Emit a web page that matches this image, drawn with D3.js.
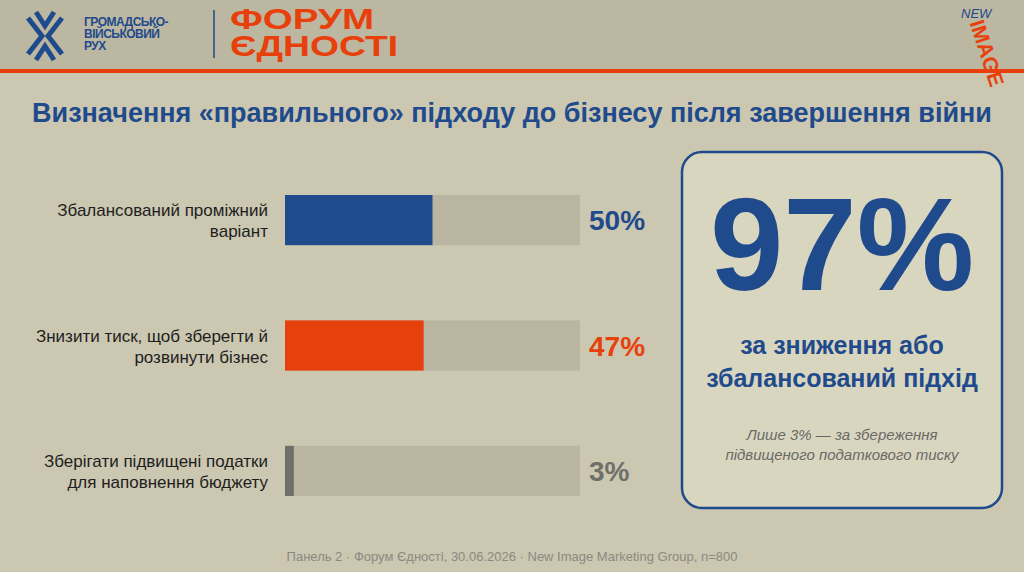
<!DOCTYPE html>
<html lang="uk">
<head>
<meta charset="utf-8">
<script src="https://d3js.org/d3.v7.min.js"></script>
<style>
  body { margin: 0; background: #c9c5ad; }
  svg { display: block; font-family: "Liberation Sans", Arial, sans-serif; }
</style>
</head>
<body>
<div id="chart"></div>
<script>
var W = 1024, H = 572;
var blue = "#1f4a8c", orange = "#e8400c", grey = "#6f6f6a";

var data = [
    {label: ["Збалансований проміжний", "варіант"], value: 50, color: blue, tcolor: blue},
    {label: ["Знизити тиск, щоб зберегти й", "розвинути бізнес"], value: 47, color: orange, tcolor: orange},
    {label: ["Зберігати підвищені податки", "для наповнення бюджету"], value: 3, color: grey, tcolor: grey}
];

var svg = d3.select("#chart").append("svg").attr("width", W).attr("height", H);

svg.append("rect").attr("width", W).attr("height", H).attr("fill", "#cbc7b0");
svg.append("rect").attr("width", W).attr("height", 70).attr("fill", "#bcb7a0");
svg.append("rect").attr("y", 69).attr("width", W).attr("height", 4).attr("fill", orange);

// header logo
var logo = svg.append("g").attr("transform", "translate(28,12)");
logo.append("path").attr("d", "M0,6 L14,24 L0,42 M34,6 L20,24 L34,42 M8,0 L17,14 L26,0 M8,48 L17,34 L26,48")
    .attr("fill", "none").attr("stroke", blue).attr("stroke-width", 5);
logo.selectAll("text.org").data(["ГРОМАДСЬКО-", "ВІЙСЬКОВИЙ", "РУХ"]).enter().append("text")
    .attr("x", 56).attr("y", function(d, i) { return 14 + i * 12; })
    .attr("font-size", 12).attr("font-weight", "bold").attr("fill", blue).attr("letter-spacing", -0.5)
    .text(function(d) { return d; });
svg.append("line").attr("x1", 214).attr("x2", 214).attr("y1", 10).attr("y2", 58).attr("stroke", blue).attr("stroke-width", 1.5);
svg.selectAll("text.forum").data(["ФОРУМ", "ЄДНОСТІ"]).enter().append("text")
    .attr("x", 230).attr("y", function(d, i) { return 29 + i * 27; })
    .attr("font-size", 30).attr("font-weight", "bold").attr("fill", orange)
    .attr("textLength", function(d, i) { return i ? 168 : 144; }).attr("lengthAdjust", "spacingAndGlyphs")
    .text(function(d) { return d; });
var ni = svg.append("g").attr("transform", "translate(965,22)");
ni.append("text").attr("x", -4).attr("y", -4).attr("font-size", 13).attr("font-style", "italic").attr("fill", blue).text("NEW");
ni.append("text").attr("transform", "rotate(72)").attr("x", 2).attr("y", -4).attr("font-size", 21)
    .attr("font-weight", "bold").attr("fill", orange).text("IMAGE");

// title
svg.append("text").attr("x", 512).attr("y", 122).attr("text-anchor", "middle")
    .attr("font-size", 27).attr("font-weight", "bold").attr("fill", blue)
    .text("Визначення «правильного» підходу до бізнесу після завершення війни");

// bars
var x = d3.scaleLinear().domain([0, 100]).range([285, 580]);
var y = d3.scaleBand().domain(d3.range(data.length)).range([195, 496]).paddingInner(0.6).paddingOuter(0);

var rows = svg.selectAll("g.row").data(data).enter().append("g").attr("class", "row");
rows.append("rect").attr("x", x(0)).attr("y", function(d, i) { return y(i); })
    .attr("width", x(100) - x(0)).attr("height", y.bandwidth()).attr("fill", "#b9b5a0");
rows.append("rect").attr("x", x(0)).attr("y", function(d, i) { return y(i); })
    .attr("width", function(d) { return x(d.value) - x(0); }).attr("height", y.bandwidth())
    .attr("fill", function(d) { return d.color; });
rows.append("text").attr("x", 589).attr("y", function(d, i) { return y(i) + y.bandwidth() / 2 + 10; })
    .attr("font-size", 28).attr("font-weight", "bold").attr("fill", function(d) { return d.tcolor; })
    .text(function(d) { return d.value + "%"; });
rows.each(function(d, i) {
    d3.select(this).selectAll("text.lab").data(d.label).enter().append("text")
        .attr("x", 268).attr("text-anchor", "end")
        .attr("y", function(t, j) { return y(i) + y.bandwidth() / 2 - 4 + j * 21; })
        .attr("font-size", 17).attr("fill", "#1e1e1e").text(function(t) { return t; });
});

// callout box
svg.append("rect").attr("x", 682).attr("y", 152).attr("width", 320).attr("height", 356).attr("rx", 20)
    .attr("fill", "#d9d6c0").attr("stroke", blue).attr("stroke-width", 2.5);
svg.append("text").attr("x", 842).attr("y", 290).attr("text-anchor", "middle")
    .attr("font-size", 132).attr("font-weight", "bold").attr("fill", blue).text("97%");
svg.selectAll("text.sub").data(["за зниження або", "збалансований підхід"]).enter().append("text")
    .attr("x", 842).attr("y", function(d, i) { return 354 + i * 33; }).attr("text-anchor", "middle")
    .attr("font-size", 25).attr("font-weight", "bold").attr("fill", blue).text(function(d) { return d; });
svg.selectAll("text.note").data(["Лише 3% — за збереження", "підвищеного податкового тиску"]).enter().append("text")
    .attr("x", 842).attr("y", function(d, i) { return 440 + i * 20; }).attr("text-anchor", "middle")
    .attr("font-size", 15).attr("font-style", "italic").attr("fill", "#6a6a66").text(function(d) { return d; });

// footer
svg.append("text").attr("x", 512).attr("y", 561).attr("text-anchor", "middle")
    .attr("font-size", 13).attr("fill", "#8a8a84")
    .text("Панель 2 · Форум Єдності, 30.06.2026 · New Image Marketing Group, n=800");
</script>
</body>
</html>
